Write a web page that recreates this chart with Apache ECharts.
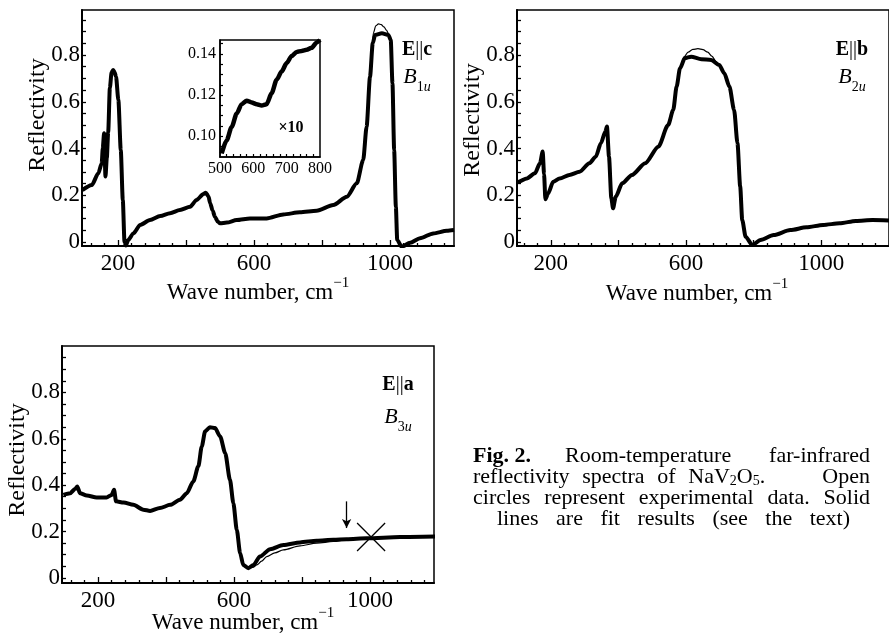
<!DOCTYPE html>
<html><head><meta charset="utf-8">
<script src="https://cdn.jsdelivr.net/npm/echarts@6/dist/echarts.min.js"></script>
<style>html,body{margin:0;padding:0;background:#fff}#c{width:889px;height:638px}</style>
</head><body><div id="c"></div>
<script>
// ---------- data ----------
// E||c (B1u)
const cWave = [95,123,142,152,155,159,163,167,171,176,181,186,190,194,201,208,214,219,223,230,245,265,294,324,353,382,412,431,451,458,466,471,478,485,493,500,520,549,588,637,686,735,784,833,873,902,921,931,941,949,956,976,995,1002,1007,1012,1017,1021,1034,1059,1088,1127,1167,1188];
const cRefl = [0.222,0.244,0.294,0.337,0.40,0.465,0.28,0.36,0.47,0.66,0.725,0.736,0.725,0.708,0.607,0.394,0.18,0.0,-0.015,0.009,0.037,0.073,0.094,0.111,0.123,0.137,0.151,0.18,0.205,0.211,0.195,0.166,0.135,0.108,0.088,0.08,0.083,0.094,0.101,0.101,0.118,0.127,0.134,0.158,0.194,0.251,0.351,0.493,0.707,0.85,0.886,0.893,0.886,0.864,0.68,0.394,0.151,0.009,-0.02,-0.003,0.016,0.037,0.048,0.051];
const cFitWave = [931,941,947,951,958,966,974,982,990,997,1003,1007,1012];
const cFitRefl = [0.493,0.707,0.83,0.895,0.925,0.933,0.93,0.92,0.905,0.885,0.84,0.68,0.394];
// inset (E||c, 500-800)
const insetWave = [505,520,535,550,565,580,595,610,625,640,655,670,685,700,715,730,745,760,775,790,800];
const insetRefl = [0.0916,0.098,0.1045,0.111,0.1156,0.1173,0.1164,0.1156,0.115,0.1156,0.121,0.1275,0.1315,0.1356,0.139,0.141,0.1415,0.142,0.143,0.1456,0.1468];
// E||b (B2u)
const bWave = [100,105,129,153,168,176,180,184,192,207,226,255,285,314,333,348,361,366,372,379,384,392,411,440,479,518,547,562,572,582,596,615,645,674,698,713,728,742,752,760,766,776,796,820,859,908,956,1005,1054,1102,1151,1200];
const bRefl = [0.255,0.258,0.272,0.294,0.337,0.387,0.29,0.183,0.208,0.258,0.272,0.287,0.301,0.337,0.365,0.422,0.472,0.494,0.365,0.187,0.144,0.194,0.251,0.287,0.337,0.408,0.501,0.565,0.665,0.743,0.786,0.793,0.782,0.779,0.757,0.722,0.665,0.565,0.422,0.237,0.094,0.023,-0.013,0.009,0.03,0.051,0.063,0.073,0.08,0.09,0.094,0.092];
const bFitWave = [562,572,582,594,606,620,635,650,664,676,690,705,713];
const bFitRefl = [0.565,0.665,0.745,0.792,0.812,0.824,0.827,0.823,0.812,0.795,0.77,0.74,0.722];
// E||a (B3u)
const aWave = [98,118,132,139,147,167,196,225,240,247,253,275,304,333,353,382,412,441,461,480,495,505,515,529,544,559,574,588,598,608,618,627,642,657,676,706,745,794,843,892,931,990,1088,1191];
const aRefl = [0.358,0.365,0.383,0.394,0.365,0.355,0.347,0.347,0.358,0.38,0.33,0.325,0.315,0.294,0.289,0.301,0.315,0.337,0.365,0.416,0.481,0.567,0.632,0.65,0.646,0.61,0.538,0.423,0.322,0.207,0.106,0.056,0.042,0.056,0.092,0.124,0.142,0.153,0.16,0.164,0.167,0.171,0.176,0.178];
const aFitWave = [642,655,667,681,696,720,745,794,843,892,931,990];
const aFitRefl = [0.042,0.045,0.056,0.072,0.092,0.108,0.121,0.138,0.15,0.157,0.165,0.171];
const aArrow = {wave: 931, from: 0.33, to: 0.215};
const aCross = {wave: 1003, refl: 0.176};
// ticks / labels
const xLabelValues = [200, 600, 1000];
const xMajorTicks = [200, 400, 600, 800, 1000, 1200];
const xMinorTicks = [120,160,240,280,320,360,440,480,520,560,640,680,720,760,840,880,920,960,1040,1080,1120,1160];
const yLabelValues = [0, 0.2, 0.4, 0.6, 0.8];
const yTicks = [0,0.05,0.1,0.15,0.2,0.25,0.3,0.35,0.4,0.45,0.5,0.55,0.6,0.65,0.7,0.75,0.8,0.85,0.9,0.95];
const insetXLabels = [500, 600, 700, 800];
const insetXTicks = [520,540,560,580,600,620,640,660,680,700,720,740,760,780];
const insetYLabels = [0.10, 0.12, 0.14];
const insetYTicks = [0.095,0.10,0.105,0.11,0.115,0.12,0.125,0.13,0.135,0.14,0.145];

// ---------- build ----------
const FONT = '"Liberation Serif", "Times New Roman", serif';
const zip = (xs, ys) => xs.map((x, i) => [x, ys[i]]);
const grids = [
  {left: 82, top: 10, width: 372, height: 236},
  {left: 517, top: 10, width: 376.75, height: 236},
  {left: 62, top: 346, width: 372, height: 237},
  {left: 220, top: 40, width: 100, height: 117}
].map(g => Object.assign({show: true, borderColor: '#000', borderWidth: 1.5, backgroundColor: 'rgba(0,0,0,0)', containLabel: false}, g));

const xRanges = [[94, 1188], [100, 1200], [94, 1188]];
const yRanges = [[-0.017, 0.9925], [-0.017, 0.9925], [-0.022, 1.0]];

const xAxis = [], yAxis = [];
for (let g = 0; g < 3; g++) {
  xAxis.push({ // minor ticks + axis line
    type: 'value', gridIndex: g, min: xRanges[g][0], max: xRanges[g][1], position: 'bottom',
    axisLine: {show: true, onZero: false, lineStyle: {color: '#000', width: 2}},
    axisTick: {show: true, inside: true, length: 3, customValues: xMinorTicks, lineStyle: {color: '#000', width: 1.3}},
    axisLabel: {show: false}, splitLine: {show: false}
  });
  xAxis.push({ // major ticks + labels
    type: 'value', gridIndex: g, min: xRanges[g][0], max: xRanges[g][1], position: 'bottom',
    axisLine: {show: false, onZero: false},
    axisTick: {show: true, inside: true, length: 6, customValues: xMajorTicks, lineStyle: {color: '#000', width: 1.3}},
    axisLabel: {show: true, customValues: xLabelValues, color: '#000', fontFamily: FONT, fontSize: 23, margin: 6,
      formatter: v => String(v)},
    splitLine: {show: false}
  });
  yAxis.push({
    type: 'value', gridIndex: g, min: yRanges[g][0], max: yRanges[g][1],
    axisLine: {show: true, onZero: false, lineStyle: {color: '#000', width: 2}},
    axisTick: {show: true, inside: true, length: 4, customValues: yTicks, lineStyle: {color: '#000', width: 1.3}},
    axisLabel: {show: true, customValues: yLabelValues, color: '#000', fontFamily: FONT, fontSize: 23, margin: 2,
      formatter: v => (Math.abs(v) < 1e-9 ? '0' : v.toFixed(1))},
    splitLine: {show: false}
  });
}
// inset axes (index 6 for x, 3 for y)
xAxis.push({
  type: 'value', gridIndex: 3, min: 500, max: 800,
  axisLine: {show: true, onZero: false, lineStyle: {color: '#000', width: 1.5}},
  axisTick: {show: true, inside: true, length: 3, customValues: insetXTicks, lineStyle: {color: '#000', width: 1.2}},
  axisLabel: {show: true, customValues: insetXLabels, color: '#000', fontFamily: FONT, fontSize: 16, margin: 4,
    formatter: v => String(v)},
  splitLine: {show: false}
});
yAxis.push({
  type: 'value', gridIndex: 3, min: 0.0899, max: 0.1468,
  axisLine: {show: true, onZero: false, lineStyle: {color: '#000', width: 1.5}},
  axisTick: {show: true, inside: true, length: 3, customValues: insetYTicks, lineStyle: {color: '#000', width: 1.2}},
  axisLabel: {show: true, customValues: insetYLabels, color: '#000', fontFamily: FONT, fontSize: 16, margin: 4,
    formatter: v => v.toFixed(2)},
  splitLine: {show: false}
});

const expLine = (x, y, xi, yi, w) => ({
  type: 'line', xAxisIndex: xi, yAxisIndex: yi, data: zip(x, y), showSymbol: false,
  smooth: 0.25, smoothMonotone: 'x', lineStyle: {color: '#000', width: w || 4}, itemStyle: {color: '#000'},
  silent: true, animation: false, clip: true, z: 3
});
const fitLine = (x, y, xi, yi) => ({
  type: 'line', xAxisIndex: xi, yAxisIndex: yi, data: zip(x, y), showSymbol: false,
  smooth: 0.3, smoothMonotone: 'x', lineStyle: {color: '#000', width: 1.2}, silent: true, animation: false, clip: true, z: 2
});

const seriesA = expLine(aWave, aRefl, 4, 2);
seriesA.markLine = {
  silent: true, animation: false, symbol: ['none', 'arrow'], symbolSize: [7, 9],
  lineStyle: {color: '#000', width: 1.3, type: 'solid'}, label: {show: false},
  data: [[{coord: [aArrow.wave, aArrow.from]}, {coord: [aArrow.wave, aArrow.to]}]]
};
seriesA.markPoint = {
  silent: true, animation: false, symbol: 'path://M0,0L10,10M10,0L0,10', symbolSize: 28,
  itemStyle: {color: 'none', borderColor: '#000', borderWidth: 1.3}, label: {show: false},
  data: [{coord: [aCross.wave, aCross.refl]}]
};

const series = [
  expLine(cWave, cRefl, 0, 0), fitLine(cFitWave, cFitRefl, 0, 0),
  expLine(bWave, bRefl, 2, 1), fitLine(bFitWave, bFitRefl, 2, 1),
  seriesA, fitLine(aFitWave, aFitRefl, 4, 2),
  expLine(insetWave, insetRefl, 6, 3, 4.5)
];

// ---------- text ----------
const T = (text, x, y, opts) => ({
  type: 'text', x, y, silent: true, z: 10,
  style: Object.assign({text, fill: '#000', font: '24px ' + FONT, align: 'center', verticalAlign: 'middle'}, opts || {})
});
const richBase = {
  n: {fontFamily: FONT, fontSize: 23, lineHeight: 28, verticalAlign: 'bottom'},
  sup: {fontFamily: FONT, fontSize: 15, lineHeight: 15, verticalAlign: 'top'},
  b: {fontFamily: FONT, fontSize: 20, fontWeight: 'bold', lineHeight: 24},
  bar: {fontFamily: FONT, fontSize: 20, lineHeight: 24},
  i: {fontFamily: FONT, fontSize: 22, fontStyle: 'italic', lineHeight: 28, verticalAlign: 'top'},
  s1: {fontFamily: FONT, fontSize: 14, lineHeight: 14, verticalAlign: 'bottom'},
  su: {fontFamily: FONT, fontSize: 14, fontStyle: 'italic', lineHeight: 14, verticalAlign: 'bottom'}
};
const R = (text, x, y, opts) => T(text, x, y, Object.assign({rich: richBase}, opts || {}));

const waveName = '{n|Wave number, cm}{sup|\u22121}';
const graphic = [
  T('Reflectivity', 38, 115, {}), T('Reflectivity', 473, 120, {}), T('Reflectivity', 18, 460, {}),
  R(waveName, 258, 290), R(waveName, 697, 291), R(waveName, 243, 620),
  R('{b|E}{bar|||}{b|c}', 417, 50), R('{i|B}{s1|1}{su|u}', 417, 80),
  R('{b|E}{bar|||}{b|b}', 852, 50), R('{i|B}{s1|2}{su|u}', 852, 80),
  R('{b|E}{bar|||}{b|a}', 398, 385), R('{i|B}{s1|3}{su|u}', 398, 420),
  T('\u00d710', 291, 128, {font: 'bold 16px ' + FONT})
];
graphic[0].rotation = Math.PI / 2; graphic[1].rotation = Math.PI / 2; graphic[2].rotation = Math.PI / 2;

// ---------- caption (justified word layout) ----------
const CAP = 22;
const capStyles = {
  cn: {fontFamily: FONT, fontSize: CAP, css: CAP + 'px ' + FONT},
  fb: {fontFamily: FONT, fontSize: CAP, fontWeight: 'bold', css: 'bold ' + CAP + 'px ' + FONT},
  cs: {fontFamily: FONT, fontSize: 14, verticalAlign: 'bottom', lineHeight: 12, css: '14px ' + FONT}
};
const capRich = {};
Object.keys(capStyles).forEach(k => { const s = Object.assign({}, capStyles[k]); delete s.css; if (k !== 'cs') s.lineHeight = 24; s.verticalAlign = s.verticalAlign || 'bottom'; capRich[k] = s; });
const W = (t) => [[t, 'cn']];
// each line: y, groups of [left, right, words, gapWeights]
const capLines = [
  {y: 455, groups: [[473, null, [[['Fig. 2.', 'fb']]]], [565, 870, [W('Room-temperature'), W('far-infrared')]]]},
  {y: 476, groups: [[473, 870, [W('reflectivity'), W('spectra'), W('of'), [['NaV', 'cn'], ['2', 'cs'], ['O', 'cn'], ['5', 'cs'], ['.', 'cn']], W('Open')], [1, 1, 1, 4.5]]]},
  {y: 497, groups: [[473, 870, [W('circles'), W('represent'), W('experimental'), W('data.'), W('Solid')]]]},
  {y: 518, groups: [[497, 850, [W('lines'), W('are'), W('fit'), W('results'), W('(see'), W('the'), W('text)')]]]}
];
const ctx = document.createElement('canvas').getContext('2d');
const segWidth = segs => segs.reduce((s, g) => { ctx.font = capStyles[g[1]].css; return s + ctx.measureText(g[0]).width; }, 0);
const segRich = segs => segs.map(g => '{' + g[1] + '|' + g[0] + '}').join('');
capLines.forEach(line => line.groups.forEach(([left, right, words, weights]) => {
  const widths = words.map(segWidth);
  const total = widths.reduce((a, b) => a + b, 0);
  const wts = weights || words.slice(1).map(() => 1);
  const wsum = wts.reduce((a, b) => a + b, 0) || 1;
  const free = (left !== null && right !== null) ? (right - left - total) : 0;
  let x = left === null ? right - total : left;
  words.forEach((w, i) => {
    graphic.push({type: 'text', x, y: line.y, silent: true, z: 10,
      style: {text: segRich(w), rich: capRich, fill: '#000', align: 'left', verticalAlign: 'middle'}});
    x += widths[i] + (i < wts.length ? Math.max(4, free * wts[i] / wsum) : 0);
  });
}));

const chart = echarts.init(document.getElementById('c'), null, {renderer: 'canvas'});
chart.setOption({
  animation: false, backgroundColor: '#fff',
  grid: grids, xAxis, yAxis, series, graphic
});
</script></body></html>
